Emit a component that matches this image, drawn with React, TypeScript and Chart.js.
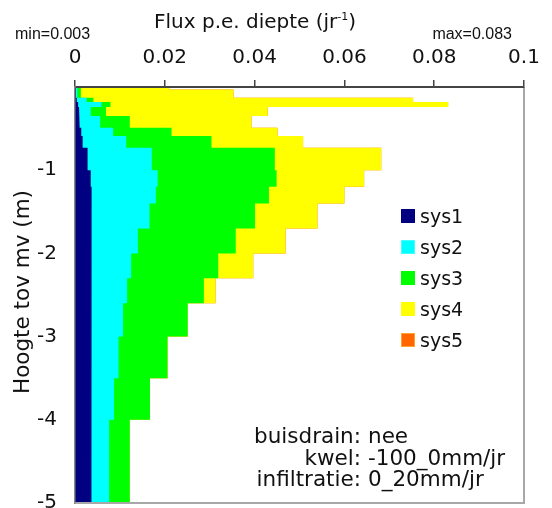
import React, { useEffect, useRef } from 'react';
import { Chart, registerables } from 'chart.js';

Chart.register(...registerables);

// Layer boundaries (depth below surface, m)
const layerBounds = [0, 0.03, 0.13, 0.18, 0.24, 0.35, 0.49, 0.59, 0.73, 1.0, 1.2, 1.4, 1.7, 2.0, 2.3, 2.6, 3.0, 3.5, 4.0, 5.0];

// Flux per depth for each system (jr^-1), one value per layer
const sys1 = [0.0002, 0.0002, 0.0004, 0.0007, 0.0009, 0.0011, 0.0014, 0.0017, 0.0028, 0.0035, 0.0037, 0.0037, 0.0037, 0.0037, 0.0037, 0.0037, 0.0036, 0.0036, 0.0036];
const sys2 = [0.0003, 0.0003, 0.0022, 0.0052, 0.0026, 0.0045, 0.0071, 0.0097, 0.0143, 0.0149, 0.0143, 0.0129, 0.0103, 0.0088, 0.0079, 0.0070, 0.0061, 0.0051, 0.0040];
const sys3 = [0.0008, 0.0008, 0.0015, 0.0020, 0.0034, 0.0066, 0.0130, 0.0190, 0.0274, 0.0265, 0.0252, 0.0235, 0.0218, 0.0194, 0.0171, 0.0144, 0.0109, 0.0080, 0.0046];
const sys4 = [0.0197, 0.0340, 0.0712, 0.0752, 0.0360, 0.0271, 0.0236, 0.0204, 0.0237, 0.0195, 0.0168, 0.0139, 0.0111, 0.0078, 0.0026, 0, 0, 0, 0];
const sys5 = [0, 0, 0, 0, 0, 0, 0, 0, 0, 0, 0, 0, 0, 0, 0, 0, 0, 0, 0];

const seriesNames = ['sys1', 'sys2', 'sys3', 'sys4', 'sys5'];
const seriesColors = ['#000080', '#00ffff', '#00ff00', '#ffff00', '#ff6600'];
const legendBorders = ['#000080', '#40ffff', '#00ff00', '#ffff00', '#ffa030'];

const xTickValues = [0, 0.02, 0.04, 0.06, 0.08, 0.1];
const yTickValues = [-1, -2, -3, -4, -5];

const xTitle = 'Flux p.e. diepte (jr';
const xTitleSup = '-1';
const yTitle = 'Hoogte tov mv (m)';
const minLabel = 'min=0.003';
const maxLabel = 'max=0.083';
const infoLabels = ['buisdrain:', 'kwel:', 'infiltratie:'];
const infoValues = ['nee', '-100_0mm/jr', '0_20mm/jr'];

const FONT = "'DejaVu Sans', Verdana, sans-serif";

const frameLines = {
  id: 'frameLines',
  afterDatasetsDraw(chart: any) {
    const { ctx, chartArea } = chart;
    const { left, right, top, bottom } = chartArea;
    ctx.save();
    ctx.strokeStyle = '#a8a8a8';
    ctx.lineWidth = 2;
    ctx.beginPath();
    ctx.moveTo(right, top);
    ctx.lineTo(right, bottom);
    ctx.lineTo(left, bottom);
    ctx.stroke();
    ctx.restore();
  },
};

export default function App() {
  const canvasRef = useRef<HTMLCanvasElement | null>(null);

  useEffect(() => {
    const series = [sys1, sys2, sys3, sys4, sys5];
    const cumulative = series.map((_, s) =>
      sys1.map((__, i) => series.slice(0, s + 1).reduce((acc, arr) => acc + arr[i], 0))
    );
    const datasets = series.map((_, s) => ({
      label: seriesNames[s],
      data: cumulative[s].flatMap((v, i) => [
        { x: v, y: -layerBounds[i] },
        { x: v, y: -layerBounds[i + 1] },
      ]),
      backgroundColor: seriesColors[s],
      borderColor: seriesColors[s],
      borderWidth: 0,
      pointRadius: 0,
      pointHoverRadius: 0,
      tension: 0,
      fill: 'origin',
    }));

    const chart = new Chart(canvasRef.current as HTMLCanvasElement, {
      type: 'line',
      data: { datasets } as any,
      plugins: [frameLines],
      options: {
        animation: false,
        responsive: false,
        indexAxis: 'y',
        layout: { padding: { left: 0, top: 0, right: 28, bottom: 5 } },
        plugins: { legend: { display: false }, tooltip: { enabled: false } },
        scales: {
          x: {
            type: 'linear',
            position: 'top',
            min: 0,
            max: 0.1,
            afterBuildTicks: (scale: any) => {
              scale.ticks = xTickValues.map((v) => ({ value: v }));
            },
            afterFit: (scale: any) => {
              scale.height = 87;
              scale.paddingLeft = 0;
              scale.paddingRight = 0;
            },
            ticks: {
              callback: (v: any) => String(v),
              font: { family: FONT, size: 20 },
              color: '#111',
              padding: 10,
              maxRotation: 0,
              autoSkip: false,
            },
            grid: { display: true, drawOnChartArea: false, drawTicks: true, tickLength: 7, color: '#444', lineWidth: 1.5 },
            border: { display: true, color: '#444', width: 2, z: 1 },
          },
          y: {
            type: 'linear',
            position: 'left',
            min: -5,
            max: 0,
            afterBuildTicks: (scale: any) => {
              scale.ticks = yTickValues.map((v) => ({ value: v }));
            },
            afterFit: (scale: any) => {
              scale.width = 75;
              scale.paddingTop = 0;
              scale.paddingBottom = 0;
            },
            ticks: {
              callback: (v: any) => String(v),
              font: { family: FONT, size: 20 },
              color: '#111',
              padding: 18,
              autoSkip: false,
            },
            grid: { display: false, drawTicks: false },
            border: { display: true, color: '#888', width: 1.5, z: 1 },
          },
        },
      } as any,
    });
    return () => chart.destroy();
  }, []);

  return (
    <div style={{ position: 'fixed', left: 0, top: 0, width: 552, height: 508, background: '#fff', fontFamily: FONT, color: '#111', overflow: 'hidden' }}>
      <canvas ref={canvasRef} width={552} height={508} style={{ position: 'absolute', left: 0, top: 0 }} />
      <div style={{ position: 'absolute', left: 154, top: 9, fontSize: 20, lineHeight: '24px', whiteSpace: 'nowrap' }}>
        {xTitle}
        <span style={{ fontSize: 11, position: 'relative', top: -8 }}>{xTitleSup}</span>)
      </div>
      <div style={{ position: 'absolute', left: 15, top: 25, fontFamily: "'Liberation Sans', Arial, sans-serif", fontSize: 16, lineHeight: '18px', whiteSpace: 'nowrap' }}>{minLabel}</div>
      <div style={{ position: 'absolute', right: 40, top: 25, fontFamily: "'Liberation Sans', Arial, sans-serif", fontSize: 16, lineHeight: '18px', whiteSpace: 'nowrap' }}>{maxLabel}</div>
      <div style={{ position: 'absolute', left: 22, top: 292, fontSize: 21.5, lineHeight: '26px', whiteSpace: 'nowrap', transform: 'translate(-50%, -50%) rotate(-90deg)' }}>{yTitle}</div>
      {seriesNames.map((name, i) => (
        <div key={name} style={{ position: 'absolute', left: 401, top: 216 + i * 31 - 15.5, height: 31, display: 'flex', alignItems: 'center', fontSize: 19, whiteSpace: 'nowrap' }}>
          <span style={{ display: 'inline-block', width: 14, height: 14, boxSizing: 'border-box', background: seriesColors[i], border: `1px solid ${legendBorders[i]}`, marginRight: 5 }} />
          <span>{name}</span>
        </div>
      ))}
      <div style={{ position: 'absolute', left: 221, width: 140, top: 425, fontSize: 21.5, lineHeight: '21.5px', textAlign: 'right', whiteSpace: 'nowrap' }}>
        {infoLabels.map((l) => (<div key={l}>{l}</div>))}
      </div>
      <div style={{ position: 'absolute', left: 368, top: 425, fontSize: 21.5, lineHeight: '21.5px', whiteSpace: 'nowrap' }}>
        {infoValues.map((v) => (<div key={v}>{v}</div>))}
      </div>
    </div>
  );
}
